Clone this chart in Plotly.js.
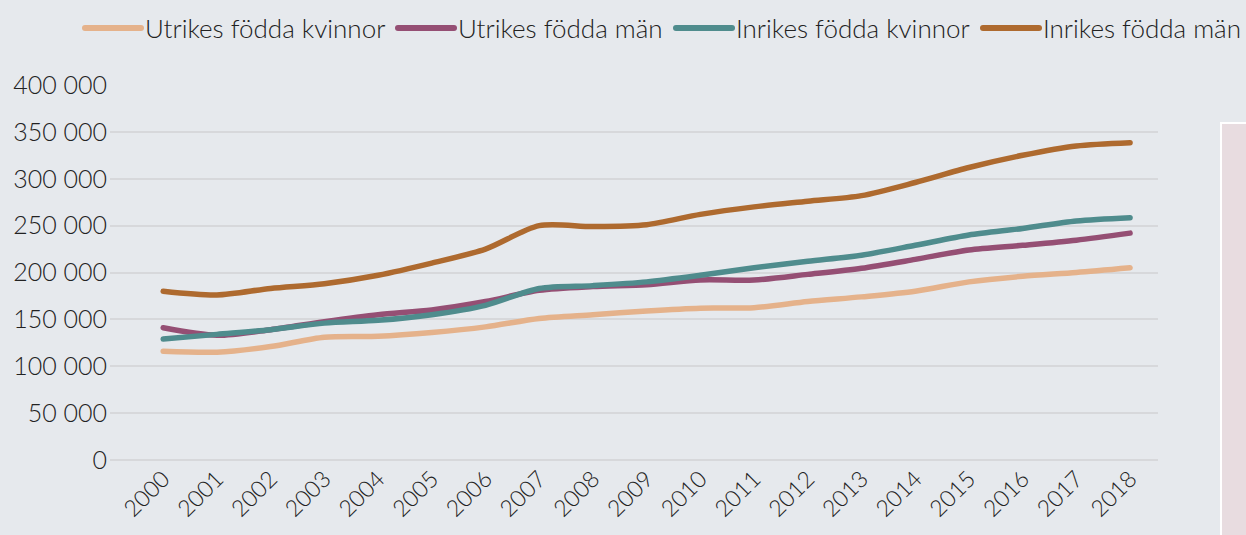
<!DOCTYPE html>
<html>
<head>
<meta charset="utf-8">
<script src="https://cdn.plot.ly/plotly-3.0.1.min.js"></script>
<style>
html,body{margin:0;padding:0;background:#E6E9ED;}
#chart{width:1246px;height:535px;}
#chart path.js-line, #chart .shapelayer path { stroke-linecap: round; }
</style>
</head>
<body>
<div id="chart"></div>
<script>
const years = [2000,2001,2002,2003,2004,2005,2006,2007,2008,2009,2010,2011,2012,2013,2014,2015,2016,2017,2018];
const utrikesKvinnor = [116000,115000,121000,131000,132000,136000,142000,151000,155000,159000,162000,162500,169000,174000,180000,190000,196000,200000,205000];
const utrikesMan = [141000,133000,139000,147500,155000,160000,169000,181000,185000,187000,192000,192000,198000,204500,214000,224000,229000,234500,242000];
const inrikesKvinnor = [129000,134000,139000,146000,149000,155000,165000,183000,186000,190000,197000,205000,212000,218500,229000,240000,247000,255000,258500];
const inrikesMan = [180000,176000,183000,188000,197000,210000,225000,250000,249000,251000,262000,270000,276000,282000,296000,312000,325000,335000,338500];
const seriesNames = ["Utrikes födda kvinnor","Utrikes födda män","Inrikes födda kvinnor","Inrikes födda män"];
const yTicks = [0,50000,100000,150000,200000,250000,300000,350000,400000];

const colors = ["#E5B28B","#954F74","#4F8C8D","#AE6A2F"];
const data = [utrikesKvinnor, utrikesMan, inrikesKvinnor, inrikesMan].map((vals,i)=>({
  x: years, y: vals, name: seriesNames[i], type: 'scatter', mode: 'lines',
  line: {color: colors[i], width: 5.5, shape: 'spline', smoothing: 0.8},
  hoverinfo: 'skip', showlegend: false
}));

const fam = 'Lato, "Open Sans", sans-serif';
const txt = '#222222';

// plot area in pixels: left 110, right 1158, top 85, bottom 460
const W = 1246, H = 535, L = 110, R = 88, T = 85, B = 75;
const pw = W - L - R, ph = H - T - B;
const px = v => (v - L) / pw;
const py = v => (H - B - v) / ph;

// manual legend (line samples + labels)
const legendLineStarts = [85, 398, 676, 983];
const legendY = 28;
const legendShapes = seriesNames.map((n,i)=>({
  type: 'line', xref: 'paper', yref: 'paper',
  x0: px(legendLineStarts[i]), x1: px(legendLineStarts[i] + 56), y0: py(legendY), y1: py(legendY),
  line: {color: colors[i], width: 6}
}));
const legendAnn = seriesNames.map((n,i)=>({
  text: n, xref: 'paper', yref: 'paper', x: px(legendLineStarts[i] + 58), y: py(legendY),
  xanchor: 'left', yanchor: 'middle', showarrow: false,
  font: {family: fam, size: 26, color: txt, weight: 300}
}));

const layout = {
  width: W, height: H,
  paper_bgcolor: '#E6E9ED', plot_bgcolor: '#E6E9ED',
  margin: {l: L, r: R, t: T, b: B},
  separators: ', ',
  font: {family: fam, color: txt, size: 22, weight: 300},
  showlegend: false,
  xaxis: {range: [1999.01, 2018.52], tickvals: years, ticktext: years.map(String), tickangle: -45,
          showgrid: false, zeroline: false, showline: false, ticks: '',
          tickfont: {family: fam, size: 23, color: txt, weight: 300}},
  yaxis: {range: [0, 400000], tickvals: yTicks, tickformat: ',d', showgrid: true, gridcolor: '#D7D8DB', gridwidth: 2,
          zeroline: true, zerolinecolor: '#D7D8DB', zerolinewidth: 2, showline: false, ticks: '', ticklabelstandoff: 2,
          tickfont: {family: fam, size: 25, color: txt, weight: 300}},
  shapes: [{type: 'rect', xref: 'paper', yref: 'paper', x0: px(1221), x1: px(1300), y0: py(123), y1: py(600),
            fillcolor: '#E8DCE0', line: {color: '#FFFFFF', width: 2}, layer: 'below'}].concat(legendShapes),
  annotations: legendAnn
};

Plotly.newPlot('chart', data, layout, {displayModeBar: false, staticPlot: true});
</script>
</body>
</html>
